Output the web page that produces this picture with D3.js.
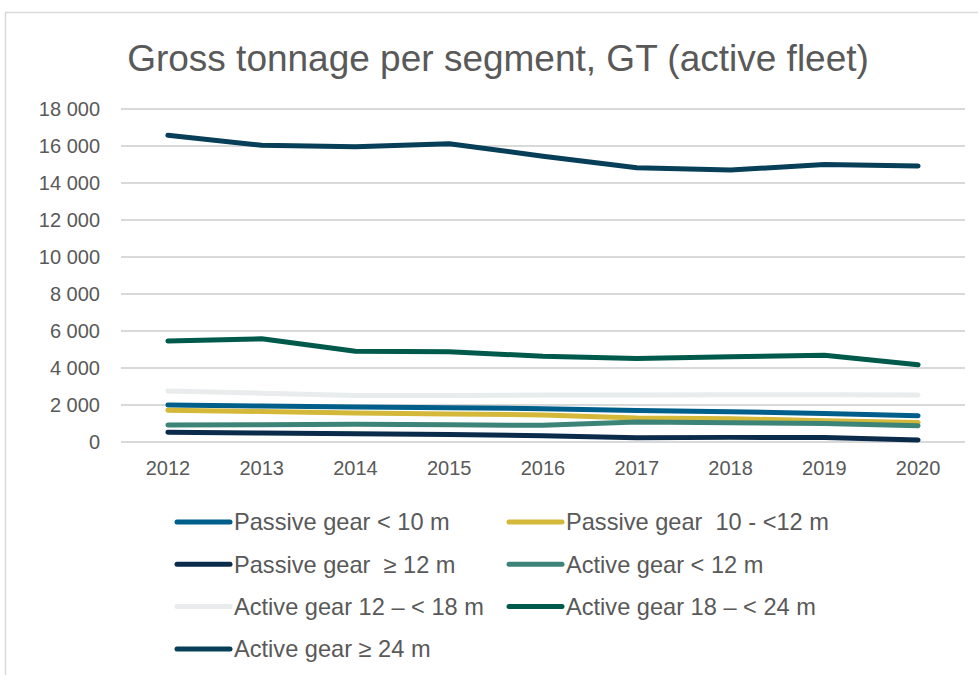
<!DOCTYPE html>
<html>
<head>
<meta charset="utf-8">
<script src="https://cdn.jsdelivr.net/npm/d3@7"></script>
<style>
  body { margin: 0; background: #fff; }
  svg { font-family: "Liberation Sans", Arial, sans-serif; }
  .axis text { fill: #595959; font-size: 20px; }
  .grid line { stroke: #d9d9d9; stroke-width: 2; }
</style>
</head>
<body>
<div id="plot"></div>
<script>
const years = [2012, 2013, 2014, 2015, 2016, 2017, 2018, 2019, 2020]
const yTicks = [0, 2000, 4000, 6000, 8000, 10000, 12000, 14000, 16000, 18000]

const passiveLt10   = [2000, 1940, 1890, 1850, 1800, 1700, 1640, 1540, 1420]
const passive10to12 = [1720, 1650, 1570, 1520, 1460, 1300, 1260, 1150, 1060]
const passiveGe12   = [530, 480, 450, 400, 340, 230, 250, 240, 110]
const activeLt12    = [920, 930, 955, 930, 900, 1080, 1045, 1000, 880]
const active12to18  = [2760, 2640, 2510, 2520, 2540, 2540, 2560, 2550, 2540]
const active18to24  = [5460, 5580, 4900, 4880, 4630, 4520, 4610, 4690, 4180]
const activeGe24    = [16580, 16040, 15960, 16120, 15450, 14830, 14700, 15000, 14920]

const series = [
  {name: 'Passive gear < 10 m', values: passiveLt10, color: '#005f8a'},
  {name: 'Passive gear  10 - <12 m', values: passive10to12, color: '#d3b83a'},
  {name: 'Passive gear  \u2265 12 m', values: passiveGe12, color: '#0b2b4b'},
  {name: 'Active gear < 12 m', values: activeLt12, color: '#3d8478'},
  {name: 'Active gear 12 \u2013 < 18 m', values: active12to18, color: '#e8ecec'},
  {name: 'Active gear 18 \u2013 < 24 m', values: active18to24, color: '#005a4b'},
  {name: 'Active gear \u2265 24 m', values: activeGe24, color: '#073e58'}
]

const width = 978, height = 675
const margin = ({top: 109, right: 13, bottom: 233, left: 121})

const svg = d3.select('#plot').append('svg')
  .attr('width', width)
  .attr('height', height)

// outer frame
svg.append('rect')
  .attr('x', 5.5).attr('y', 12.5)
  .attr('width', 1000).attr('height', 700)
  .attr('fill', 'none')
  .attr('stroke', '#d9d9d9')
  .attr('stroke-width', 1.5)

svg.append('text')
  .attr('x', 498).attr('y', 71)
  .attr('text-anchor', 'middle')
  .attr('fill', '#595959')
  .style('font-size', '37px')
  .text('Gross tonnage per segment, GT (active fleet)')

const xScale = d3.scaleBand()
  .domain(years)
  .range([margin.left, width - margin.right])
const yScale = d3.scaleLinear()
  .domain([0, 18000])
  .range([height - margin.bottom, margin.top])

const fmt = d => d3.format(',')(d).replace(',', ' ')

//gridlines
svg.append('g')
  .classed('grid', true)
  .selectAll('line')
  .data(yTicks)
  .join('line')
  .attr('x1', margin.left)
  .attr('x2', width - margin.right)
  .attr('y1', d => yScale(d))
  .attr('y2', d => yScale(d))

//yaxis
svg.append('g')
  .classed('axis', true)
  .attr('transform', `translate(${margin.left},0)`)
  .call(d3.axisLeft(yScale).tickValues(yTicks).tickFormat(fmt).tickSize(0).tickPadding(21))
  .call(g => g.select('.domain').remove())

//xaxis
svg.append('g')
  .classed('axis', true)
  .attr('transform', `translate(0,${height - margin.bottom})`)
  .call(d3.axisBottom(xScale).tickSize(0).tickPadding(19))
  .call(g => g.select('.domain').remove())

const line = d3.line()
  .x((d, i) => xScale(years[i]) + xScale.bandwidth() / 2)
  .y(d => yScale(d))

svg.append('g')
  .selectAll('path')
  .data(series)
  .join('path')
  .attr('d', d => line(d.values))
  .attr('fill', 'none')
  .attr('stroke', d => d.color)
  .attr('stroke-width', 5)
  .attr('stroke-linecap', 'round')
  .attr('stroke-linejoin', 'round')

//legend
const colX = [175, 507]
const legend = svg.append('g')
  .selectAll('g')
  .data(series)
  .join('g')
  .attr('transform', (d, i) => `translate(${colX[i % 2]},${522 + Math.floor(i / 2) * 42.3})`)
legend.append('line')
  .attr('x1', 2).attr('x2', 55)
  .attr('stroke', d => d.color)
  .attr('stroke-width', 5)
  .attr('stroke-linecap', 'round')
legend.append('text')
  .attr('x', 59)
  .attr('dy', '0.35em')
  .attr('fill', '#595959')
  .style('font-size', '23.6px')
  .style('white-space', 'pre')
  .text(d => d.name)
</script>
</body>
</html>
